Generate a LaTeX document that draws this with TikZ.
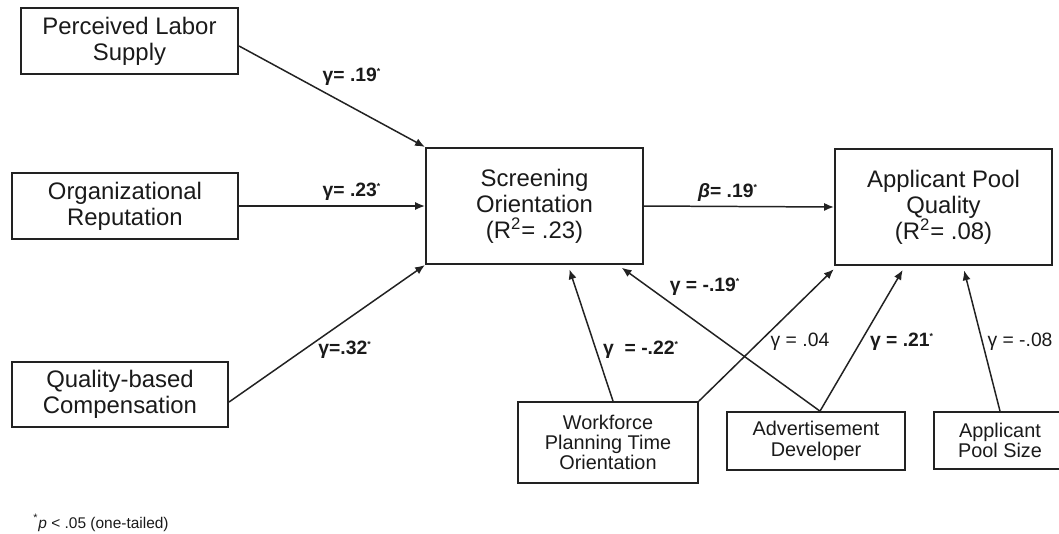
\documentclass[tikz,border=0pt]{standalone}
\usepackage{fontspec}
\setmainfont{Liberation Sans}
\usetikzlibrary{arrows.meta}
\definecolor{darkline}{HTML}{222222}
\definecolor{textcol}{HTML}{1A1A1A}
\tikzset{
  card/.style={rectangle, draw=darkline, line width=1.2pt, align=center, inner sep=0pt, text=textcol},
  bigbox/.style={card, font=\fontsize{13.6}{14.8}\selectfont},
  smallbox/.style={card, line width=1pt, font=\fontsize{11.3}{11.6}\selectfont},
  coef/.style={font=\fontsize{11}{12}\selectfont\bfseries, text=textcol, inner sep=1pt},
  ncoef/.style={font=\fontsize{11}{12}\selectfont, text=textcol, inner sep=1pt},
  note/.style={font=\fontsize{8.8}{10}\selectfont, text=textcol, inner sep=0pt},
  path/.style={-{Latex[length=5.6pt, width=4.6pt]}, line width=0.85pt, draw=darkline},
  uppath/.style={path, shorten >=0.9mm},
}
\newcommand{\sig}{\textsuperscript{\tiny *}}

\begin{document}
\begin{tikzpicture}[x=0.2mm, y=-0.2mm]
\useasboundingbox (0,0) rectangle (1059,533);

% ===== Predictors =====
\node[bigbox, minimum width=43.4mm, minimum height=13.2mm] (pls) at (129.5,41) {Perceived Labor\\Supply};
\node[bigbox, minimum width=45.2mm, minimum height=13.2mm] (orep) at (125,206) {Organizational\\Reputation};
\node[bigbox, minimum width=43.2mm, minimum height=13mm] (qbc) at (120,394.5) {Quality-based\\Compensation};

% ===== Outcomes =====
\node[bigbox, minimum width=43.4mm, minimum height=23.2mm] (so) at (534.5,206) {Screening\\Orientation\\(R\textsuperscript{2}= .23)};
\node[bigbox, minimum width=43.4mm, minimum height=23.2mm] (apq) at (943.5,207) {Applicant Pool\\Quality\\(R\textsuperscript{2}= .08)};

% ===== Controls =====
\node[smallbox, minimum width=36mm, minimum height=16.2mm] (wpto) at (608,442.5) {Workforce\\Planning Time\\Orientation};
\node[smallbox, minimum width=35.6mm, minimum height=11.6mm] (ad) at (816,441) {Advertisement\\Developer};
\node[smallbox, minimum width=26.4mm, minimum height=11.4mm] (aps) at (1000,440.5) {Applicant\\Pool Size};

% ===== Paths =====
\draw[path] ([yshift=-1mm]pls.east) -- (so.north west);
\draw[path] (orep.east) -- (so.west);
\draw[path] ([yshift=-1.5mm]qbc.east) -- (so.south west);
\draw[path] (so.east) -- (apq.west);
\draw[uppath] ([xshift=1mm]wpto.north) -- ([xshift=6.7mm]so.south);
\draw[uppath] ([xshift=0.8mm]ad.north) -- ([xshift=-5.2mm]so.south east);
\draw[uppath] (wpto.north east) -- ([xshift=0.6mm]apq.south west);
\draw[uppath] ([xshift=0.8mm]ad.north) -- ([xshift=-7.7mm]apq.south);
\draw[uppath] (aps.north) -- ([xshift=3.9mm]apq.south);

% ===== Coefficients =====
\node[coef] (c1) at (352,77) {γ= .19\sig};
\node[coef] (c2) at (352,192) {γ= .23\sig};
\node[coef] (c3) at (345,350) {γ=.32\sig};
\node[coef] (c4) at (728,192) {\textit{β}= .19\sig};
\node[coef] (c5) at (705,287) {γ = -.19\sig};
\node[coef] (c6) at (641,350) {γ\ \ = -.22\sig};
\node[ncoef] (c7) at (800,342) {γ = .04};
\node[coef] (c8) at (902,342) {γ = .21\sig};
\node[ncoef] (c9) at (1020,342) {γ = -.08};

\node[note] (fn) at (101,523) {\textsuperscript{*}\textit{p} < .05 (one-tailed)};

\end{tikzpicture}
\end{document}
